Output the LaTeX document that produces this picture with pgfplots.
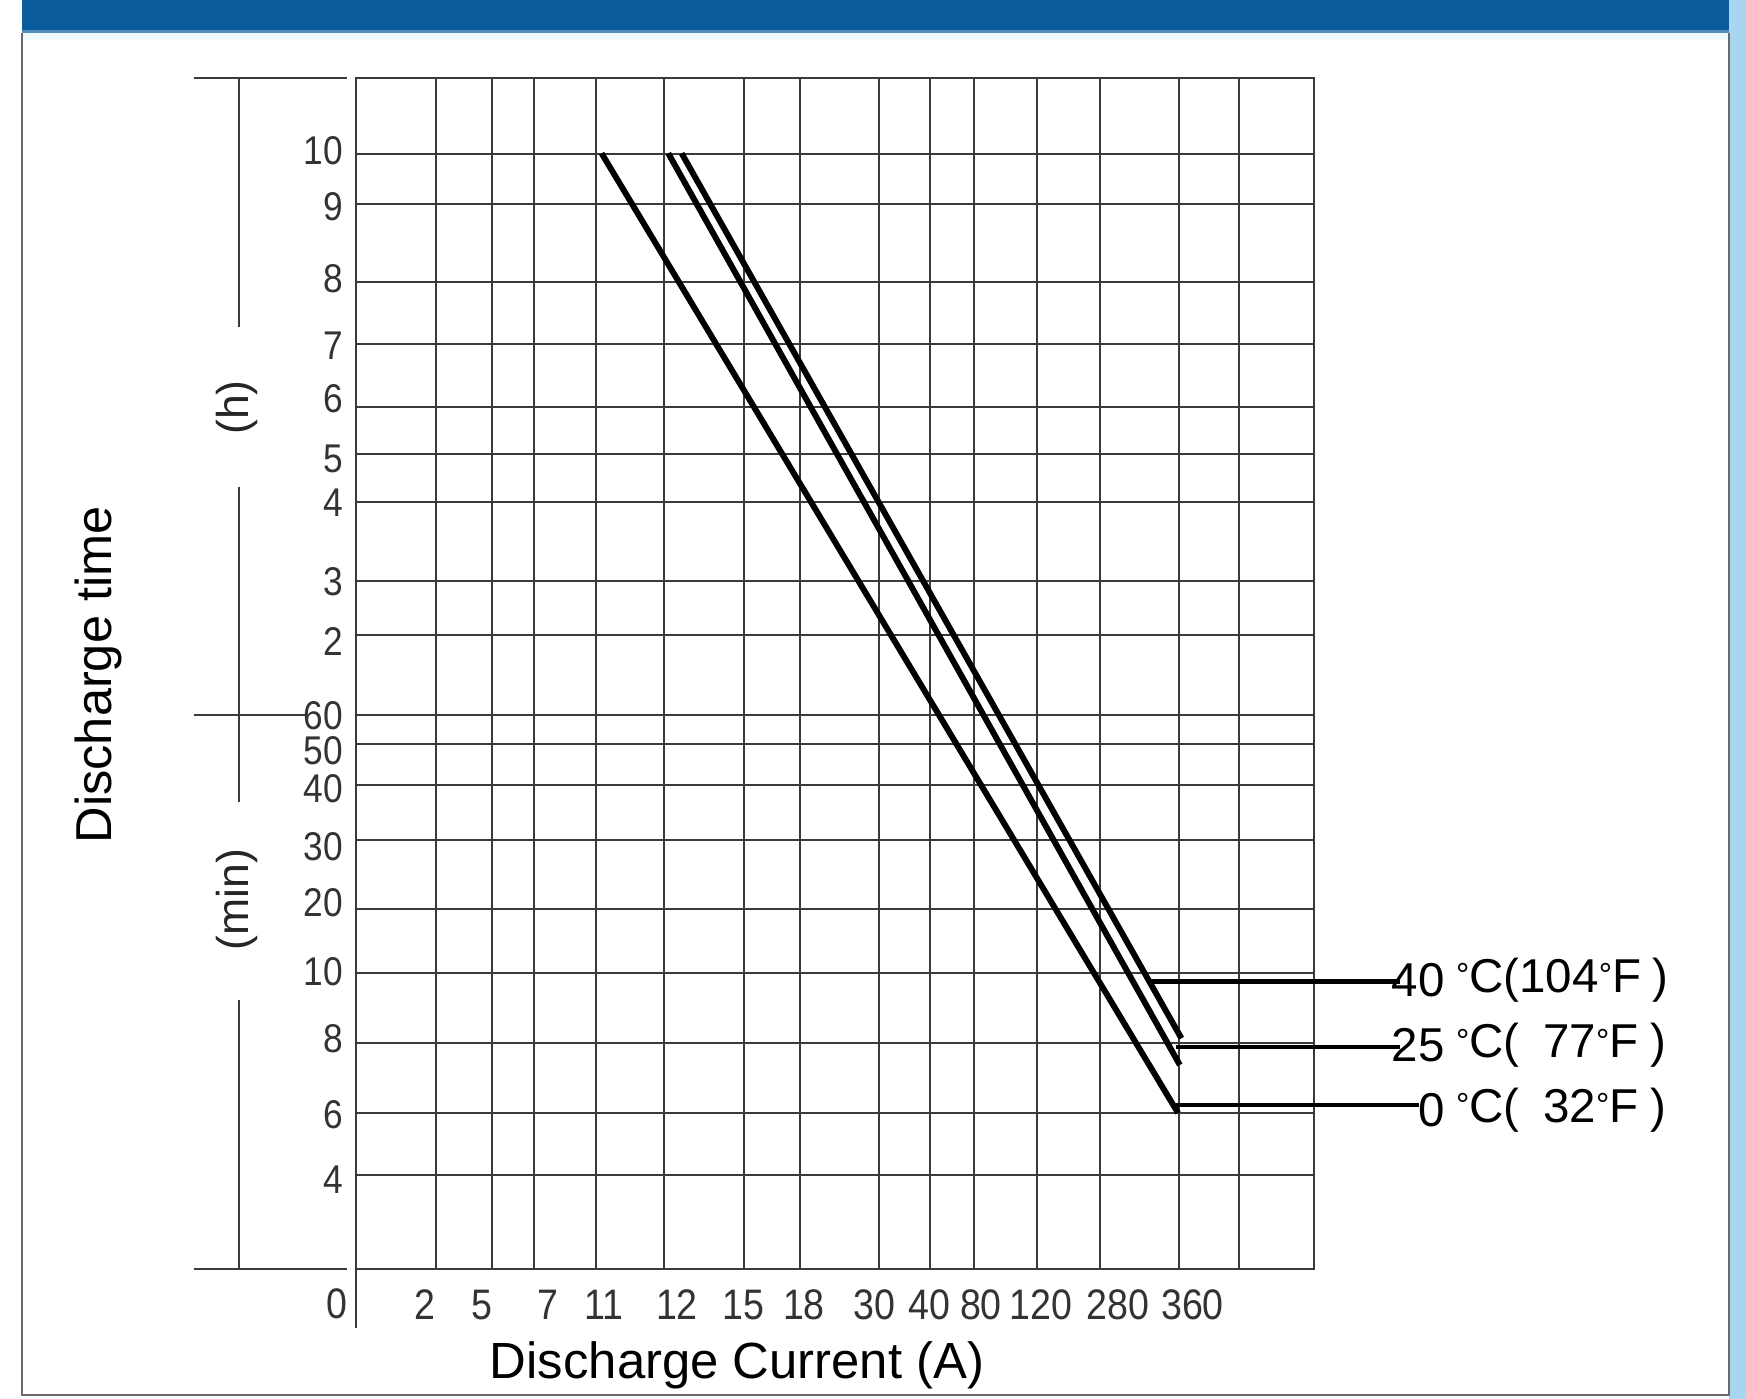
\documentclass[border=0pt]{standalone}
\usepackage{fontspec}
\setmainfont{Liberation Sans}
\newfontfamily\tickfont[FakeStretch=0.88]{Liberation Sans}
\usepackage{pgfplots}
\pgfplotsset{compat=1.18}
\definecolor{gridc}{HTML}{3A3A3A}
\definecolor{bandblue}{HTML}{0A5C9C}
\definecolor{edgeblue}{HTML}{A8D5F0}
\definecolor{framec}{HTML}{6A6A6A}
\newcommand{\dg}{\raisebox{0.12em}{\scalebox{0.7}{°}}}
\begin{document}
\begin{tikzpicture}
% background in reference pixel units (1 unit = 0.3pt, y downwards)
\begin{scope}[x=0.3pt,y=-0.3pt]
\fill[white] (0,0) rectangle (1568,1256);
\fill[edgeblue] (1553,0) rectangle (1568,1256);
\fill[bandblue] (20,0) rectangle (1553,27);
\fill[bandblue!70!white] (20,27) rectangle (1553,30);
\fill[cyan!6] (20,30) rectangle (1553,36);
\end{scope}
\begin{axis}[
  at={(96pt,-342pt)}, anchor=south west,
  width=258pt, height=321pt, scale only axis,
  xmin=320, xmax=1180, ymin=70, ymax=1140, y dir=reverse,
  clip=false,
  axis line style={gridc, line width=0.55pt},
  major tick length=0pt,
  xtick={391.2,441.6,479.6,535.4,596.7,668,718.5,789.7,835.3,874.8,931.3,988.3,1059,1112.5},
  ytick={138.1,182.9,253,309,365.5,408,450.5,521.4,570.4,642,668.3,704.7,754.7,816.2,873.6,936.3,999.8,1055.2},
  xticklabels={}, yticklabels={},
  xmajorgrids, ymajorgrids,
  major grid style={gridc, line width=0.55pt},
  extra x ticks={382,433,492,542,608,668,722,785,835,881,935,1004,1071},
  extra x tick labels={2,5,7,11,12,15,18,30,40,80,120,280,360},
  extra y ticks={135,186,250,310,358,412,451.6,522.7,576,643,674,708,760,811,872.4,933,1000.7,1059},
  extra y tick labels={10,9,8,7,6,5,4,3,2,60,50,40,30,20,10,8,6,4},
  extra tick style={grid=none, major tick length=0pt},
  xticklabel style={font=\tickfont\fontsize{11.5}{12}\selectfont, text=black!80, anchor=center, yshift=-9.6pt},
  yticklabel style={font=\tickfont\fontsize{10.8}{12}\selectfont, text=black!80},
]
% discharge curves (reference pixel coordinates on the printed nomogram)
\addplot[black, line width=1.6pt] coordinates {(540.3,137.7) (1058,999.5)};
\addplot[black, line width=1.6pt] coordinates {(600.2,137.7) (1059.6,956.4)};
\addplot[black, line width=1.6pt] coordinates {(612.2,137.7) (1061,932.4)};
% leader lines to the temperature labels
\addplot[black, line width=1.2pt] coordinates {(1034,881.6) (1257,881.6)};
\addplot[black, line width=1.2pt] coordinates {(1056,940) (1257,940)};
\addplot[black, line width=1.2pt] coordinates {(1056,992.3) (1274,992.3)};
\end{axis}
\begin{scope}[x=0.3pt,y=-0.3pt]
% outer frame
\draw[framec, line width=0.6pt] (20,30) -- (20,1253) -- (1553,1253) -- (1553,30);
% left bracket
\draw[gridc, line width=0.5pt] (174,70) -- (312,70);
\draw[gridc, line width=0.5pt] (174,1139.5) -- (312,1139.5);
\draw[gridc, line width=0.5pt] (214.5,70) -- (214.5,294);
\draw[gridc, line width=0.5pt] (214.5,437) -- (214.5,720);
\draw[gridc, line width=0.5pt] (214.5,898) -- (214.5,1140);
\draw[gridc, line width=0.5pt] (174,642) -- (274,642);
\draw[gridc, line width=0.55pt] (320,1140) -- (320,1193);
\node[rotate=90, font=\fontsize{12}{14}\selectfont, text=black!85] at (213,366) {(h)};
\node[rotate=90, font=\fontsize{12}{14}\selectfont, text=black!85] at (213,808) {(min)};
\node[font=\tickfont\fontsize{11.5}{12}\selectfont, text=black!80] at (303,1171) {0};
% axis titles
\node[rotate=90, anchor=base, font=\fontsize{13.6}{16}\selectfont] at (100,606) {Discharge time};
\node[anchor=base, font=\fontsize{13.7}{16}\selectfont] at (662,1238) {Discharge Current (A)};
% temperature labels
\node[anchor=east, inner sep=0pt, font=\fontsize{12.8}{14}\selectfont] at (1298,880) {40};
\node[anchor=west, inner sep=0pt, font=\fontsize{12.8}{14}\selectfont] at (1307,880) {\dg C(104\dg F\hspace{0.25em})};
\node[anchor=east, inner sep=0pt, font=\fontsize{12.8}{14}\selectfont] at (1298,939) {25};
\node[anchor=west, inner sep=0pt, font=\fontsize{12.8}{14}\selectfont] at (1307,939) {\dg C(\enspace77\dg F\hspace{0.25em})};
\node[anchor=east, inner sep=0pt, font=\fontsize{12.8}{14}\selectfont] at (1298,997) {0};
\node[anchor=west, inner sep=0pt, font=\fontsize{12.8}{14}\selectfont] at (1307,997) {\dg C(\enspace32\dg F\hspace{0.25em})};
\pgfresetboundingbox
\path[use as bounding box] (0,0) rectangle (1568,1256);
\end{scope}
\end{tikzpicture}
\end{document}
